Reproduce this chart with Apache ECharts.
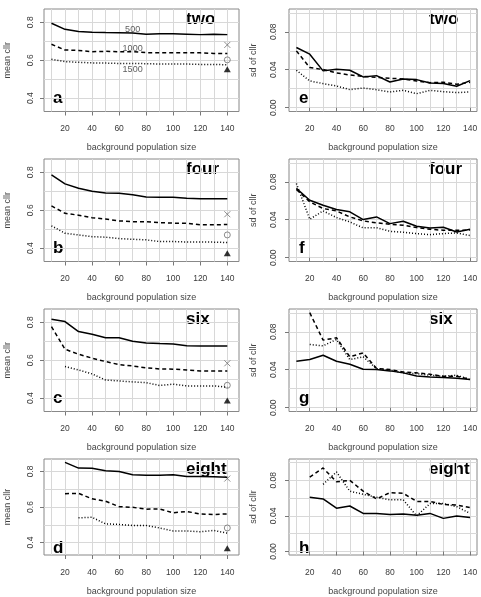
<!DOCTYPE html>
<html>
<head>
<meta charset="utf-8">
<script src="https://cdn.jsdelivr.net/npm/echarts@6/dist/echarts.min.js"></script>
<style>
  html, body { margin: 0; padding: 0; background: #fff; }
  #chart { width: 481px; height: 597px; }
</style>
</head>
<body>
<div id="chart"></div>
<script>
// background population size (x for every panel)
const popSizes = [10, 20, 30, 40, 50, 60, 70, 80, 90, 100, 110, 120, 130, 140];

// mean cllr, lines for 500 / 1000 / 1500
const meanTwo500 = [0.795, 0.763, 0.751, 0.748, 0.746, 0.745, 0.743, 0.737, 0.739, 0.739, 0.737, 0.735, 0.737, 0.735];
const meanTwo1000 = [0.684, 0.654, 0.652, 0.645, 0.647, 0.645, 0.645, 0.640, 0.640, 0.639, 0.639, 0.639, 0.636, 0.636];
const meanTwo1500 = [0.605, 0.593, 0.589, 0.586, 0.585, 0.583, 0.583, 0.582, 0.580, 0.580, 0.580, 0.578, 0.578, 0.576];

const meanFour500 = [0.786, 0.739, 0.716, 0.700, 0.691, 0.689, 0.682, 0.670, 0.668, 0.668, 0.663, 0.661, 0.661, 0.660];
const meanFour1000 = [0.623, 0.584, 0.574, 0.561, 0.554, 0.544, 0.540, 0.540, 0.535, 0.532, 0.532, 0.523, 0.523, 0.525];
const meanFour1500 = [0.518, 0.479, 0.470, 0.461, 0.458, 0.451, 0.447, 0.444, 0.435, 0.435, 0.433, 0.433, 0.432, 0.430];

const meanSix500 = [0.816, 0.804, 0.751, 0.737, 0.719, 0.718, 0.700, 0.691, 0.688, 0.686, 0.677, 0.675, 0.675, 0.675];
const meanSix1000 = [0.777, 0.658, 0.632, 0.611, 0.593, 0.577, 0.570, 0.560, 0.554, 0.553, 0.549, 0.544, 0.544, 0.544];
const meanSix1500 = [null, 0.567, 0.549, 0.528, 0.496, 0.491, 0.486, 0.482, 0.467, 0.474, 0.465, 0.465, 0.465, 0.458];

const meanEight500 = [null, 0.851, 0.819, 0.818, 0.804, 0.800, 0.781, 0.779, 0.779, 0.781, 0.772, 0.772, 0.770, 0.768];
const meanEight1000 = [null, 0.675, 0.677, 0.646, 0.633, 0.602, 0.598, 0.588, 0.589, 0.567, 0.575, 0.561, 0.558, 0.561];
const meanEight1500 = [null, null, 0.539, 0.542, 0.505, 0.502, 0.496, 0.496, 0.482, 0.465, 0.465, 0.461, 0.468, 0.453];

// sd of cllr
const sdTwo500 = [0.0634, 0.0564, 0.0388, 0.0405, 0.0395, 0.0324, 0.0338, 0.0271, 0.0303, 0.0296, 0.0261, 0.0254, 0.0226, 0.0285];
const sdTwo1000 = [0.0599, 0.0423, 0.0402, 0.0366, 0.0345, 0.0331, 0.0321, 0.0310, 0.0303, 0.0282, 0.0264, 0.0268, 0.0247, 0.0268];
const sdTwo1500 = [0.0395, 0.0282, 0.0254, 0.0229, 0.0190, 0.0208, 0.0190, 0.0166, 0.0183, 0.0148, 0.0183, 0.0169, 0.0159, 0.0166];

const sdFour500 = [0.0730, 0.0606, 0.0553, 0.0507, 0.0483, 0.0402, 0.0430, 0.0359, 0.0384, 0.0331, 0.0314, 0.0321, 0.0271, 0.0300];
const sdFour1000 = [0.0719, 0.0589, 0.0518, 0.0493, 0.0430, 0.0388, 0.0367, 0.0352, 0.0342, 0.0317, 0.0300, 0.0289, 0.0289, 0.0289];
const sdFour1500 = [0.0782, 0.0405, 0.0493, 0.0423, 0.0377, 0.0314, 0.0317, 0.0278, 0.0268, 0.0254, 0.0243, 0.0254, 0.0261, 0.0233];

const sdSix500 = [0.0490, 0.0507, 0.0553, 0.0490, 0.0458, 0.0405, 0.0402, 0.0388, 0.0367, 0.0335, 0.0324, 0.0317, 0.0310, 0.0296];
const sdSix1000 = [null, 0.1001, 0.0712, 0.0737, 0.0536, 0.0578, 0.0412, 0.0402, 0.0377, 0.0367, 0.0352, 0.0331, 0.0331, 0.0300];
const sdSix1500 = [null, 0.0666, 0.0652, 0.0719, 0.0507, 0.0536, 0.0412, 0.0395, 0.0367, 0.0359, 0.0342, 0.0331, 0.0342, 0.0296];

const sdEight500 = [null, 0.0609, 0.0591, 0.0487, 0.0511, 0.0428, 0.0428, 0.0417, 0.0421, 0.0407, 0.0428, 0.0372, 0.0400, 0.0383];
const sdEight1000 = [null, 0.0835, 0.0939, 0.0783, 0.0800, 0.0678, 0.0591, 0.0661, 0.0654, 0.0563, 0.0563, 0.0529, 0.0522, 0.0494];
const sdEight1500 = [null, null, 0.0755, 0.0894, 0.0678, 0.0643, 0.0609, 0.0581, 0.0581, 0.0400, 0.0539, 0.0539, 0.0504, 0.0428];

// reference points drawn at x = 140 (cross, circle, triangle)
const markerX = 140;
const markTwo = [0.681, 0.602, 0.553];
const markFour = [0.579, 0.470, 0.374];
const markSix = [0.584, 0.468, 0.388];
const markEight = [0.760, 0.482, 0.368];

// line labels in panel a
const lineLabels = ['500', '1000', '1500'];
const lineLabelX = 70;
const lineLabelY = [0.763, 0.663, 0.549];

// ticks and grid lines
const xTicks = [20, 40, 60, 80, 100, 120, 140];
const xGridVals = [10, 20, 30, 40, 50, 60, 70, 80, 90, 100, 110, 120, 130, 140];
const meanTicks = [0.4, 0.6, 0.8];
const meanGridVals = [0.4, 0.5, 0.6, 0.7, 0.8];
const sdTicks = [0, 0.04, 0.08];
const sdGridVals = [0, 0.02, 0.04, 0.06, 0.08, 0.1];

const FONT = '"Liberation Sans", Arial, Helvetica, sans-serif';

const panels = [
  { col: 0, row: 0, name: 'two', letter: 'a', lines: [meanTwo500, meanTwo1000, meanTwo1500], marks: markTwo },
  { col: 0, row: 1, name: 'four', letter: 'b', lines: [meanFour500, meanFour1000, meanFour1500], marks: markFour },
  { col: 0, row: 2, name: 'six', letter: 'c', lines: [meanSix500, meanSix1000, meanSix1500], marks: markSix },
  { col: 0, row: 3, name: 'eight', letter: 'd', lines: [meanEight500, meanEight1000, meanEight1500], marks: markEight },
  { col: 1, row: 0, name: 'two', letter: 'e', lines: [sdTwo500, sdTwo1000, sdTwo1500] },
  { col: 1, row: 1, name: 'four', letter: 'f', lines: [sdFour500, sdFour1000, sdFour1500] },
  { col: 1, row: 2, name: 'six', letter: 'g', lines: [sdSix500, sdSix1000, sdSix1500] },
  { col: 1, row: 3, name: 'eight', letter: 'h', lines: [sdEight500, sdEight1000, sdEight1500] }
];

const lineTypes = ['solid', [4, 3], [1, 2]];

const grids = [], xAxes = [], yAxes = [], series = [], graphics = [];

function pairs(arr) {
  const out = [];
  arr.forEach(function (v, j) { if (v != null) out.push([popSizes[j], v]); });
  return out;
}

panels.forEach(function (p, i) {
  const isMean = p.col === 0;
  const top = 9 + 150 * p.row;
  grids.push({
    left: isMean ? 44 : 289, top: top, width: isMean ? 195 : 188, height: 102.5,
    show: true, borderColor: '#888', borderWidth: 1, backgroundColor: 'transparent'
  });
  const xMin = 4.47, xMax = isMean ? 148.65 : 145.2;
  const yMin = isMean ? 0.33 : -0.004, yMax = isMean ? 0.87 : 0.104;

  // main axes (ticks + labels)
  xAxes.push({
    gridIndex: i, type: 'value', min: xMin, max: xMax, position: 'bottom',
    name: 'background population size', nameLocation: 'middle', nameGap: 32,
    nameTextStyle: { fontSize: 9, color: '#444', fontFamily: FONT },
    axisLine: { show: false },
    axisTick: { show: true, length: 4, customValues: xTicks, lineStyle: { color: '#777' } },
    axisLabel: { customValues: xTicks, margin: 13, fontSize: 8.5, color: '#3a3a3a', fontFamily: FONT },
    splitLine: { show: false }
  });
  // grid-line axis
  xAxes.push({
    gridIndex: i, type: 'value', min: xMin, max: xMax, position: 'top',
    axisLine: { show: false },
    axisTick: { show: false, customValues: xGridVals },
    axisLabel: { show: false },
    splitLine: { show: true, lineStyle: { color: '#d8d8d8', width: 1 } }
  });
  yAxes.push({
    gridIndex: i, type: 'value', min: yMin, max: yMax, position: 'left',
    name: isMean ? 'mean cllr' : 'sd of cllr', nameLocation: 'middle', nameGap: isMean ? 32 : 31,
    nameTextStyle: { fontSize: 9, color: '#444', fontFamily: FONT },
    axisLine: { show: false },
    axisTick: { show: true, length: 4, customValues: isMean ? meanTicks : sdTicks, lineStyle: { color: '#777' } },
    axisLabel: {
      customValues: isMean ? meanTicks : sdTicks, rotate: 90, margin: isMean ? 9 : 11,
      fontSize: 8.5, color: '#3a3a3a', fontFamily: FONT,
      formatter: function (v) { return isMean ? v.toFixed(1) : v.toFixed(2); }
    },
    splitLine: { show: false }
  });
  yAxes.push({
    gridIndex: i, type: 'value', min: yMin, max: yMax, position: 'right',
    axisLine: { show: false },
    axisTick: { show: false, customValues: isMean ? meanGridVals : sdGridVals },
    axisLabel: { show: false },
    splitLine: { show: true, lineStyle: { color: '#d8d8d8', width: 1 } }
  });

  p.lines.forEach(function (arr, k) {
    series.push({
      type: 'line', xAxisIndex: 2 * i, yAxisIndex: 2 * i, data: pairs(arr),
      showSymbol: false, symbol: 'none', silent: true,
      lineStyle: { color: '#000', width: 1.5, type: lineTypes[k] }
    });
  });

  if (p.marks) {
    const hollow = { color: 'transparent', borderColor: '#6f6f6f', borderWidth: 1 };
    series.push({
      type: 'scatter', xAxisIndex: 2 * i, yAxisIndex: 2 * i, silent: true,
      data: [
        { value: [markerX, p.marks[0]], symbol: 'path://M0,0L10,10M10,0L0,10', symbolSize: 6, itemStyle: hollow },
        { value: [markerX, p.marks[1]], symbol: 'circle', symbolSize: 6, itemStyle: hollow },
        { value: [markerX, p.marks[2]], symbol: 'triangle', symbolSize: [7, 6], itemStyle: { color: '#000' } }
      ]
    });
  }

  graphics.push({
    type: 'text', x: isMean ? 186 : 429, y: 19 + 150 * p.row,
    style: { text: p.name, font: 'bold 17px ' + FONT, fill: '#000', verticalAlign: 'middle' }
  });
  graphics.push({
    type: 'text', x: isMean ? 53 : 299, y: 98 + 150 * p.row,
    style: { text: p.letter, font: 'bold 17px ' + FONT, fill: '#000', verticalAlign: 'middle' }
  });
});

// size labels on the lines of panel a
series.push({
  type: 'scatter', xAxisIndex: 0, yAxisIndex: 0, silent: true, symbolSize: 1,
  itemStyle: { color: 'transparent' },
  label: { show: true, position: 'inside', formatter: '{b}', fontSize: 9, color: '#333', fontFamily: FONT },
  data: lineLabels.map(function (t, k) { return { name: t, value: [lineLabelX, lineLabelY[k]] }; })
});

const chart = echarts.init(document.getElementById('chart'));
chart.setOption({
  animation: false,
  textStyle: { fontFamily: FONT },
  grid: grids,
  xAxis: xAxes,
  yAxis: yAxes,
  series: series,
  graphic: graphics
});
</script>
</body>
</html>
